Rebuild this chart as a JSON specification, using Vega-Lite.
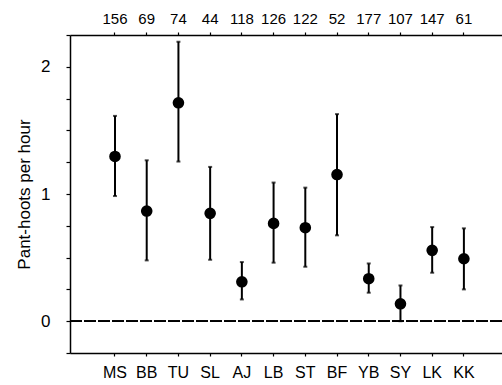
{
  "$schema": "https://vega.github.io/schema/vega-lite/v6.json",
  "autosize": "none",
  "padding": {"left": 70, "top": 35, "right": 0, "bottom": 32},
  "width": 432,
  "height": 318,
  "background": "white",
  "config": {
    "view": {"stroke": null},
    "font": "Liberation Sans",
    "axis": {"grid": false, "domainColor": "black", "tickColor": "black", "labelColor": "black", "titleColor": "black", "labelFont": "Liberation Sans", "titleFont": "Liberation Sans", "domainWidth": 1.5, "tickWidth": 1.2}
  },
  "data": {"values": [
    {"site": "MS", "n": "156", "mean": 1.295, "lo": 0.984, "hi": 1.614},
    {"site": "BB", "n": "69", "mean": 0.866, "lo": 0.478, "hi": 1.265},
    {"site": "TU", "n": "74", "mean": 1.717, "lo": 1.255, "hi": 2.197},
    {"site": "SL", "n": "44", "mean": 0.848, "lo": 0.483, "hi": 1.213},
    {"site": "AJ", "n": "118", "mean": 0.31, "lo": 0.171, "hi": 0.465},
    {"site": "LB", "n": "126", "mean": 0.769, "lo": 0.46, "hi": 1.09},
    {"site": "ST", "n": "122", "mean": 0.735, "lo": 0.428, "hi": 1.05},
    {"site": "BF", "n": "52", "mean": 1.153, "lo": 0.675, "hi": 1.628},
    {"site": "YB", "n": "177", "mean": 0.334, "lo": 0.224, "hi": 0.454},
    {"site": "SY", "n": "107", "mean": 0.137, "lo": 0.0, "hi": 0.281},
    {"site": "LK", "n": "147", "mean": 0.557, "lo": 0.381, "hi": 0.74},
    {"site": "KK", "n": "61", "mean": 0.491, "lo": 0.25, "hi": 0.73}
  ]},
  "layer": [
    {
      "encoding": {
        "x": {"field": "site", "type": "nominal", "sort": null, "scale": {"type": "band", "paddingInner": 0, "paddingOuter": 0.81, "align": 0.567},
              "axis": {"orient": "bottom", "title": null, "labelAngle": 0, "labelFontSize": 16, "labelPadding": 8, "tickSize": 3, "bandPosition": 0.5}},
        "y": {"field": "lo", "type": "quantitative", "scale": {"domain": [-0.25, 2.25], "nice": false, "zero": false},
              "axis": {"title": "Pant-hoots per hour", "titleFontSize": 17, "titleFontWeight": "normal", "titlePadding": 7,
                       "values": [-0.25, 0, 0.25, 0.5, 0.75, 1, 1.25, 1.5, 1.75, 2, 2.25], "labelOverlap": false,
                       "labelExpr": "datum.value == 0 ? '0' : datum.value == 1 ? '1' : datum.value == 2 ? '2' : ''", "labelFontSize": 17, "labelPadding": 16, "tickSize": 4}}
      },
      "layer": [
        {
          "mark": {"type": "rule", "strokeDash": [12, 2], "strokeWidth": 1.1, "color": "black"},
          "encoding": {"x": {"value": 0}, "x2": {"value": 432}, "y": {"datum": 0, "type": "quantitative"}}
        },
        {
          "mark": {"type": "rule", "strokeWidth": 2, "color": "black"},
          "encoding": {"y2": {"field": "hi"}}
        },
        {
          "mark": {"type": "tick", "size": 4, "thickness": 2, "color": "black"},
          "encoding": {"y": {"field": "lo", "type": "quantitative"}}
        },
        {
          "mark": {"type": "tick", "size": 4, "thickness": 2, "color": "black"},
          "encoding": {"y": {"field": "hi", "type": "quantitative"}}
        },
        {
          "mark": {"type": "point", "filled": true, "size": 135, "color": "black", "opacity": 1},
          "encoding": {"y": {"field": "mean", "type": "quantitative"}}
        }
      ]
    },
    {
      "mark": {"type": "point", "opacity": 0},
      "encoding": {
        "x": {"field": "n", "type": "nominal", "sort": null, "scale": {"type": "band", "paddingInner": 0, "paddingOuter": 0.81, "align": 0.567},
              "axis": {"orient": "top", "title": null, "labelAngle": 0, "labelFontSize": 15, "labelPadding": 6, "tickSize": 3, "bandPosition": 0.5}}
      }
    }
  ],
  "resolve": {"scale": {"x": "independent"}, "axis": {"x": "independent"}}
}
